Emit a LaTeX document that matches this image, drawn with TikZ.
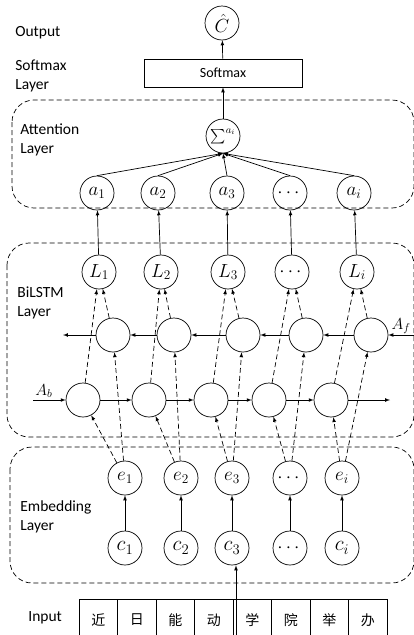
\RequirePackage{fix-cm}
\documentclass[tikz,border=0pt]{standalone}
\usepackage{amsmath}
\usepackage{fontspec}
\setsansfont{Carlito}
\newfontfamily\cjk{Noto Sans CJK SC}
\usetikzlibrary{shapes,arrows,positioning,calc}

\tikzset{
  unit/.style={draw, circle, minimum size=34pt, inner sep=0pt, font=\fontsize{19}{22}\selectfont},
  layerbox/.style={draw, dash pattern=on 5pt off 3pt, rounded corners=22pt},
  feed/.style={->, dash pattern=on 5pt off 3pt},
  layertext/.style={font=\sffamily\fontsize{15.5}{19}\selectfont, align=left, anchor=west, inner sep=0pt},
  cell/.style={draw, minimum width=38.5pt, minimum height=42pt, inner sep=0pt, font=\cjk\fontsize{14}{14}\selectfont},
}

\begin{document}
\begin{tikzpicture}[x=1pt, y=-1pt, >=latex, line width=0.7pt]
    \useasboundingbox (0,0) rectangle (414,635);
    \clip (0,0) rectangle (414,635);

    % layer frames
    \draw[layerbox] (12,100) rectangle (414,208);
    \draw[layerbox] (7,243) rectangle (414,437);
    \draw[layerbox] (10,447) rectangle (414,583);

    % layer names
    \node[layertext] (outtxt) at (15,33) {Output};
    \node[layertext] (smtxt) at (15,76) {Softmax\\Layer};
    \node[layertext] (atttxt) at (20,140) {Attention\\Layer};
    \node[layertext] (lstmtxt) at (17,303) {BiLSTM\\Layer};
    \node[layertext] (embtxt) at (20,517) {Embedding\\Layer};
    \node[layertext] (intxt) at (28,618) {Input};

    % output and softmax
    \node[unit] (out) at (222,23) {$\hat{C}$};
    \node[draw, minimum width=158pt, minimum height=28pt, font=\sffamily\fontsize{14}{14}\selectfont] (softmax) at (223,73) {Softmax};

    % attention
    \node[unit, font=\fontsize{15}{16}\selectfont] (sum) at (223,136) {$\sum^{a_i}$};
    \node[unit] (a1) at (97,193) {$a_1$};
    \node[unit] (a2) at (158,193) {$a_2$};
    \node[unit] (a3) at (227,193) {$a_3$};
    \node[unit] (a4) at (290,193) {$\cdots$};
    \node[unit] (a5) at (354,193) {$a_i$};

    % bilstm outputs
    \node[unit] (L1) at (99,272) {$L_1$};
    \node[unit] (L2) at (161,272) {$L_2$};
    \node[unit] (L3) at (228,272) {$L_3$};
    \node[unit] (L4) at (292,272) {$\cdots$};
    \node[unit] (L5) at (357,272) {$L_i$};

    % backward cells
    \node[unit] (B1) at (113,335) {};
    \node[unit] (B2) at (174,335) {};
    \node[unit] (B3) at (243,335) {};
    \node[unit] (B4) at (306,335) {};
    \node[unit] (B5) at (371,335) {};

    % forward cells
    \node[unit] (F1) at (83,400) {};
    \node[unit] (F2) at (149,400) {};
    \node[unit] (F3) at (211,400) {};
    \node[unit] (F4) at (269,400) {};
    \node[unit] (F5) at (331,400) {};

    % embeddings
    \node[unit] (e1) at (125,478) {$e_1$};
    \node[unit] (e2) at (181,478) {$e_2$};
    \node[unit] (e3) at (232,478) {$e_3$};
    \node[unit] (e4) at (290,478) {$\cdots$};
    \node[unit] (e5) at (342,478) {$e_i$};

    \node[unit, font=\fontsize{21}{22}\selectfont] (c1) at (125,548) {$c_1$};
    \node[unit, font=\fontsize{21}{22}\selectfont] (c2) at (181,548) {$c_2$};
    \node[unit, font=\fontsize{21}{22}\selectfont] (c3) at (232,548) {$c_3$};
    \node[unit] (c4) at (290,548) {$\cdots$};
    \node[unit, font=\fontsize{21}{22}\selectfont] (c5) at (342,548) {$c_i$};

    % input characters
    \node[cell] (w1) at (98.25,620) {近};
    \node[cell] (w2) at (136.75,620) {日};
    \node[cell] (w3) at (175.25,620) {能};
    \node[cell] (w4) at (213.75,620) {动};
    \node[cell] (w5) at (252.25,620) {学};
    \node[cell] (w6) at (290.75,620) {院};
    \node[cell] (w7) at (329.25,620) {举};
    \node[cell] (w8) at (367.75,620) {办};

    % chain ends
    \coordinate (bin) at (414,335);
    \coordinate (bout) at (63,335);
    \coordinate (fin) at (33,400);
    \coordinate (fout) at (390,400);
    \coordinate (inp) at (236,640);
    \node[font=\fontsize{16}{17}\selectfont] (Af) at (401,326) {$A_f$};
    \node[font=\fontsize{16}{17}\selectfont] (Ab) at (44,391) {$A_b$};

    \draw[->] (softmax) -- (out);
    \draw[->] (sum) -- (softmax);
    \draw[->] (a1.north) -- (sum.south);
    \draw[->] (a2.north) -- (sum.south);
    \draw[->] (a3.north) -- (sum.south);
    \draw[->] (a4.north) -- (sum.south);
    \draw[->] (a5.north) -- (sum.south);

    \draw[->] (L1) -- (a1);
    \draw[->] (L2) -- (a2);
    \draw[->] (L3) -- (a3);
    \draw[->] (L4) -- (a4);
    \draw[->] (L5) -- (a5);

    \draw[->] (bin) -- (B5);
    \draw[->] (B5) -- (B4);
    \draw[->] (B4) -- (B3);
    \draw[->] (B3) -- (B2);
    \draw[->] (B2) -- (B1);
    \draw[->] (B1) -- (bout);

    \draw[->] (fin) -- (F1);
    \draw[->] (F1) -- (F2);
    \draw[->] (F2) -- (F3);
    \draw[->] (F3) -- (F4);
    \draw[->] (F4) -- (F5);
    \draw[->] (F5) -- (fout);

    \draw[feed] (F1) -- (L1);
    \draw[feed] (F2) -- (L2);
    \draw[feed] (F3) -- (L3);
    \draw[feed] (F4) -- (L4);
    \draw[feed] (F5) -- (L5);
    \draw[feed] (B1) -- (L1);
    \draw[feed] (B2) -- (L2);
    \draw[feed] (B3) -- (L3);
    \draw[feed] (B4) -- (L4);
    \draw[feed] (B5) -- (L5);

    \draw[feed] (e1) -- (F1);
    \draw[feed] (e2) -- (F2);
    \draw[feed] (e3) -- (F3);
    \draw[feed] (e4) -- (F4);
    \draw[feed] (e5) -- (F5);
    \draw[feed] (e1) -- (B1);
    \draw[feed] (e2) -- (B2);
    \draw[feed] (e3) -- (B3);
    \draw[feed] (e4) -- (B4);
    \draw[feed] (e5) -- (B5);

    \draw[->] (c1) -- (e1);
    \draw[->] (c2) -- (e2);
    \draw[->] (c3) -- (e3);
    \draw[->] (c4) -- (e4);
    \draw[->] (c5) -- (e5);

    \draw[->] (inp) -- (inp |- c3.south);
\end{tikzpicture}
\end{document}
